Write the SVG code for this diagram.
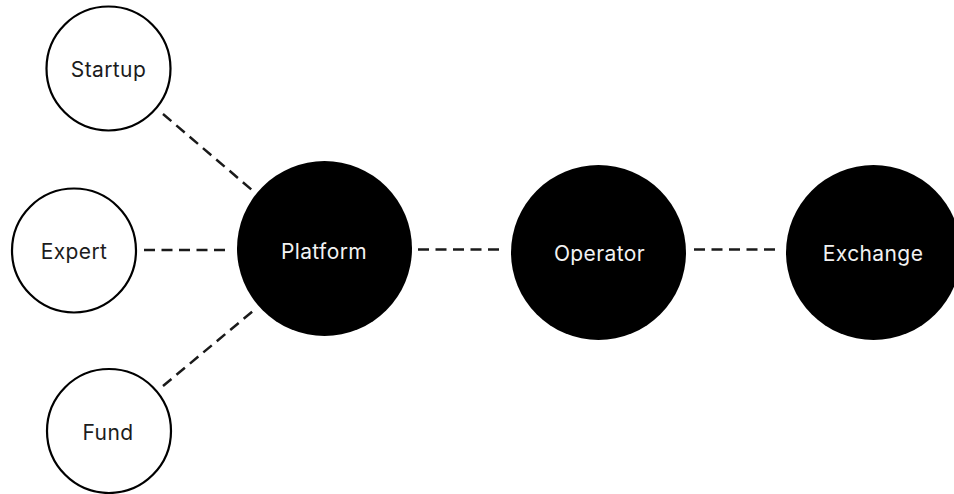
<svg xmlns="http://www.w3.org/2000/svg" width="954" height="494" viewBox="0 0 954 494">
  <style>
    .outline { fill: #ffffff; stroke: #000000; stroke-width: 2.2; }
    .solid { fill: #000000; }
    .label { font-family: Inter, "Noto Sans", "Liberation Sans", sans-serif; font-size: 21px; font-weight: 400; letter-spacing: 0.4px; text-anchor: middle; }
    .dark { fill: #1c1c1c; }
    .light { fill: #f2f2f2; }
    .link { stroke: #1a1a1a; stroke-width: 2.5; stroke-dasharray: 11 6.5; fill: none; }
  </style>
  <rect width="954" height="494" fill="#ffffff"/>

  <g id="connectors">
    <line class="link" x1="163" y1="114" x2="252" y2="190"/>
    <line class="link" x1="144" y1="250" x2="227" y2="250"/>
    <line class="link" x1="163" y1="386" x2="253" y2="311"/>
    <line class="link" x1="418" y1="249.5" x2="502" y2="249.5"/>
    <line class="link" x1="694" y1="249.5" x2="776" y2="249.5"/>
  </g>

  <g id="startup">
    <circle class="outline" cx="108.5" cy="68.5" r="62"/>
    <text class="label dark" x="108.5" y="77">Startup</text>
  </g>
  <g id="expert">
    <circle class="outline" cx="74" cy="250.5" r="62"/>
    <text class="label dark" x="74" y="259">Expert</text>
  </g>
  <g id="fund">
    <circle class="outline" cx="109" cy="431" r="62"/>
    <text class="label dark" x="108" y="440">Fund</text>
  </g>
  <g id="platform">
    <circle class="solid" cx="324.5" cy="248.5" r="87.5"/>
    <text class="label light" x="324" y="259">Platform</text>
  </g>
  <g id="operator">
    <circle class="solid" cx="598.5" cy="252.5" r="87.5"/>
    <text class="label light" x="599.5" y="261">Operator</text>
  </g>
  <g id="exchange">
    <circle class="solid" cx="873.5" cy="252.5" r="87.5"/>
    <text class="label light" x="873" y="261">Exchange</text>
  </g>
</svg>
